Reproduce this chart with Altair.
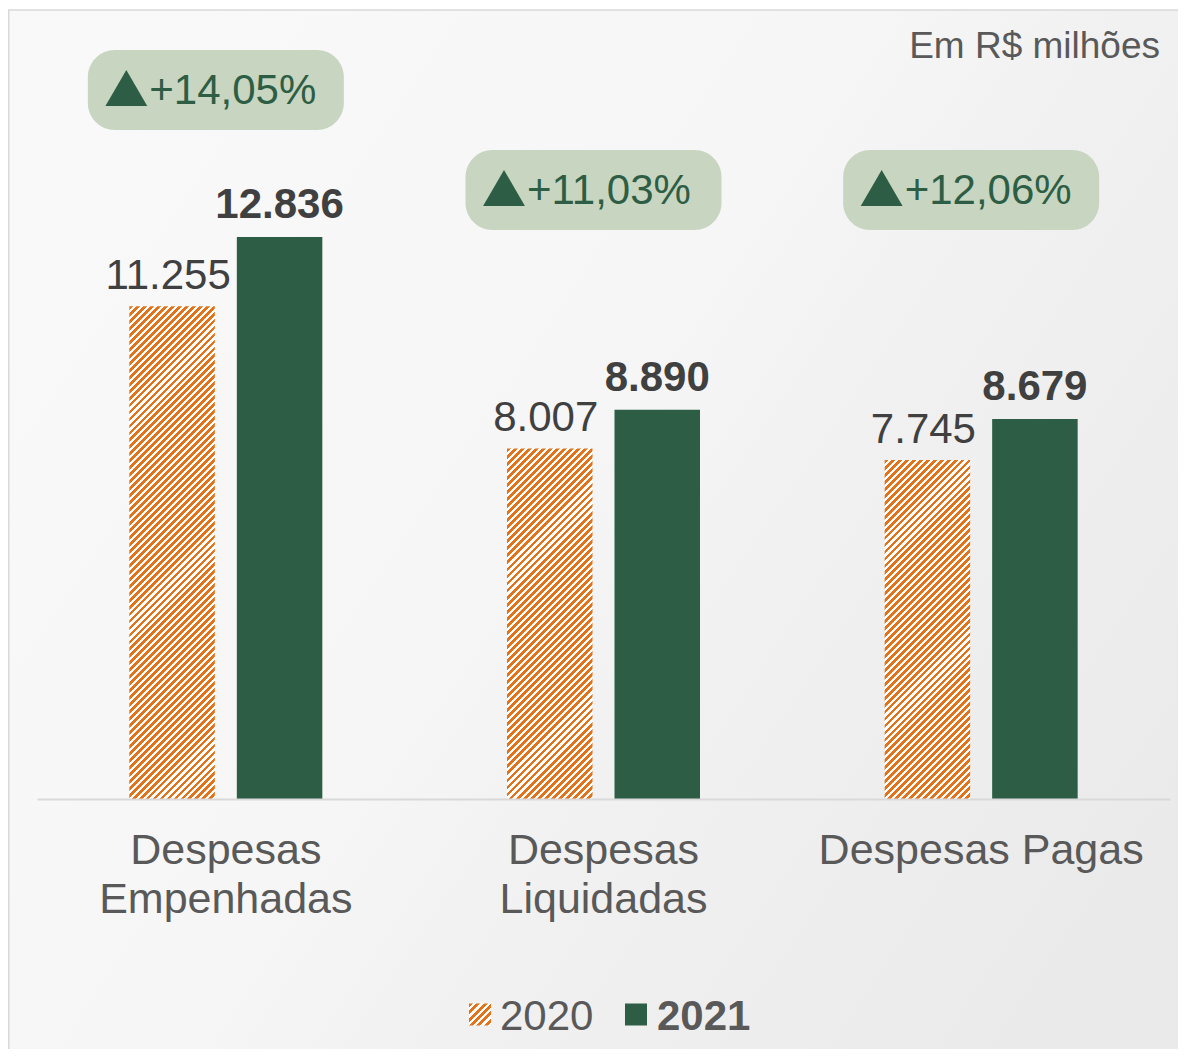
import altair as alt
import pandas as pd

# ---------------- data ----------------
categories = ["Despesas Empenhadas", "Despesas Liquidadas", "Despesas Pagas"]
years = ["2020", "2021"]
values_2020 = [11255, 8007, 7745]
values_2021 = [12836, 8890, 8679]
growth = ["+14,05%", "+11,03%", "+12,06%"]
unit_note = "Em R$ milhões"

# ---------------- layout / style ----------------
PAD_L, PAD_T, PAD_R, PAD_B = 29, 3, 8, 250
PLOT_W, PLOT_H = 1133, 788
YMAX = 18000
BAR_W = 85.5
BAR_OFF = 53.75
GREEN = "#2d5e45"
ORANGE = "#e2731a"
BADGE = "#c8d5c0"
DARK = "#404040"
GREY = "#595959"
FONT = "Liberation Sans"
badge_top_px = [39, 139, 139]   # badge rectangles (pixel rows inside plot)
badge_h_px = 80


def fmt(v):
    return f"{v:,}".replace(",", ".")


def hatch(w, h, period=7.0, frac=0.55, c1=ORANGE, c2="#ffffff"):
    L = w + h
    n = max(1, round(L / period))
    stops = []
    for k in range(n):
        o0, o1, o2 = k / n, (k + frac) / n, (k + 1) / n
        stops += [
            {"offset": o0, "color": c1},
            {"offset": o1, "color": c1},
            {"offset": o1, "color": c2},
            {"offset": o2, "color": c2},
        ]
    s = w * w + h * h
    return {"gradient": "linear", "x1": 0, "y1": 0,
            "x2": w * L / s, "y2": h * L / s, "stops": stops}


rows = []
for i, c in enumerate(categories):
    rows.append({"category": c, "year": "2020", "value": values_2020[i], "label": fmt(values_2020[i])})
    rows.append({"category": c, "year": "2021", "value": values_2021[i], "label": fmt(values_2021[i])})
df = pd.DataFrame(rows)

badges = pd.DataFrame({
    "category": categories,
    "growth": growth,
    "top": badge_top_px,
    "bot": [t + badge_h_px for t in badge_top_px],
    "mid": [t + badge_h_px / 2 for t in badge_top_px],
})

X = alt.X(
    "category:N",
    sort=categories,
    scale=alt.Scale(domain=categories, paddingInner=0.4894, paddingOuter=0.2447),
    axis=alt.Axis(
        title=None, ticks=False, tickSize=0, grid=False, zindex=2,
        domainColor="#d9d9d9", domainWidth=2,
        labelFont=FONT, labelFontSize=43, labelColor=GREY,
        labelPadding=30, labelLineHeight=49, labelLimit=0, labelAngle=0,
        labelExpr="datum.label == 'Despesas Pagas' ? datum.label : split(datum.label, ' ')",
    ),
)
Y = alt.Y("value:Q", scale=alt.Scale(domain=[0, YMAX]), axis=None)

base = alt.Chart(df)

# background panel
bg = alt.Chart(pd.DataFrame({"k": [0]})).mark_rect(
    fill={"gradient": "linear", "x1": 0, "y1": 0.2, "x2": 1, "y2": 0.8,
          "stops": [{"offset": 0, "color": "#f9f9f9"},
                    {"offset": 0.45, "color": "#f6f6f6"},
                    {"offset": 0.62, "color": "#f1f1f1"},
                    {"offset": 1, "color": "#eaeaea"}]},
    stroke="#d9d9d9", strokeWidth=1.5,
).encode(x=alt.value(-PAD_L + 0.75), x2=alt.value(PLOT_W + PAD_R + 2),
         y=alt.value(-1), y2=alt.value(PLOT_H + PAD_B + 2))

layers = [bg]

# 2021 bars
layers.append(
    base.transform_filter(alt.datum.year == "2021")
    .mark_bar(width=BAR_W, xOffset=BAR_OFF, color=GREEN)
    .encode(x=X, y=Y)
)
# 2020 hatched bars (one gradient per bar so hatch stays at 45 degrees)
for i, c in enumerate(categories):
    h_px = values_2020[i] * PLOT_H / YMAX
    layers.append(
        base.transform_filter((alt.datum.year == "2020") & (alt.datum.category == c))
        .mark_bar(width=BAR_W, xOffset=-BAR_OFF, fill=hatch(BAR_W, h_px))
        .encode(x=X, y=Y)
    )

# value labels
layers.append(
    base.transform_filter(alt.datum.year == "2020")
    .mark_text(xOffset=-BAR_OFF - 4, dy=-17, baseline="alphabetic", font=FONT,
               fontSize=42, color=DARK)
    .encode(x=X, y=Y, text="label:N")
)
layers.append(
    base.transform_filter(alt.datum.year == "2021")
    .mark_text(xOffset=BAR_OFF, dy=-19, baseline="alphabetic", font=FONT,
               fontSize=42, fontWeight="bold", color=DARK)
    .encode(x=X, y=Y, text="label:N")
)

# growth badges
bchart = alt.Chart(badges)
layers.append(
    bchart.mark_bar(width=256, xOffset=-10, cornerRadius=27, color=BADGE)
    .encode(x=X, y=alt.Y("top:Q", scale=None), y2="bot:Q")
)
layers.append(
    bchart.mark_point(shape="triangle-up", filled=True, size=1750, color=GREEN,
                      opacity=1, xOffset=-99.5, yOffset=-2)
    .encode(x=X, y=alt.Y("mid:Q", scale=None))
)
layers.append(
    bchart.mark_text(align="left", baseline="alphabetic", xOffset=-76.5, dy=14,
                     font=FONT, fontSize=42, color=GREEN)
    .encode(x=X, y=alt.Y("mid:Q", scale=None), text="growth:N")
)

# unit note
note = alt.Chart(pd.DataFrame({"t": [unit_note]}))
layers.append(
    note.mark_text(align="right", baseline="alphabetic", font=FONT, fontSize=37, color=GREY)
    .encode(x=alt.value(1123), y=alt.value(47), text="t:N")
)

# manual legend
leg = alt.Chart(pd.DataFrame({"year": years}))
layers.append(
    leg.transform_filter(alt.datum.year == "2020")
    .mark_square(size=484, fill=hatch(22, 22, period=7.0), opacity=1, strokeWidth=0)
    .encode(x=alt.value(443), y=alt.value(1003.5))
)
layers.append(
    leg.transform_filter(alt.datum.year == "2021")
    .mark_square(size=484, fill=GREEN, opacity=1, strokeWidth=0)
    .encode(x=alt.value(599), y=alt.value(1003.5))
)
layers.append(
    leg.transform_filter(alt.datum.year == "2020")
    .mark_text(align="left", baseline="alphabetic", font=FONT, fontSize=42, color=GREY)
    .encode(x=alt.value(463), y=alt.value(1019), text="year:N")
)
layers.append(
    leg.transform_filter(alt.datum.year == "2021")
    .mark_text(align="left", baseline="alphabetic", font=FONT, fontSize=42,
               fontWeight="bold", color=GREY)
    .encode(x=alt.value(620), y=alt.value(1019), text="year:N")
)

chart = alt.layer(*layers).properties(
    width=PLOT_W, height=PLOT_H,
    padding={"left": PAD_L, "top": PAD_T, "right": PAD_R, "bottom": PAD_B},
    autosize=alt.AutoSizeParams(type="none"),
    background="#ffffff",
).configure_view(strokeWidth=0)

chart.save("out.html", embed_options={"renderer": "svg", "actions": False})
